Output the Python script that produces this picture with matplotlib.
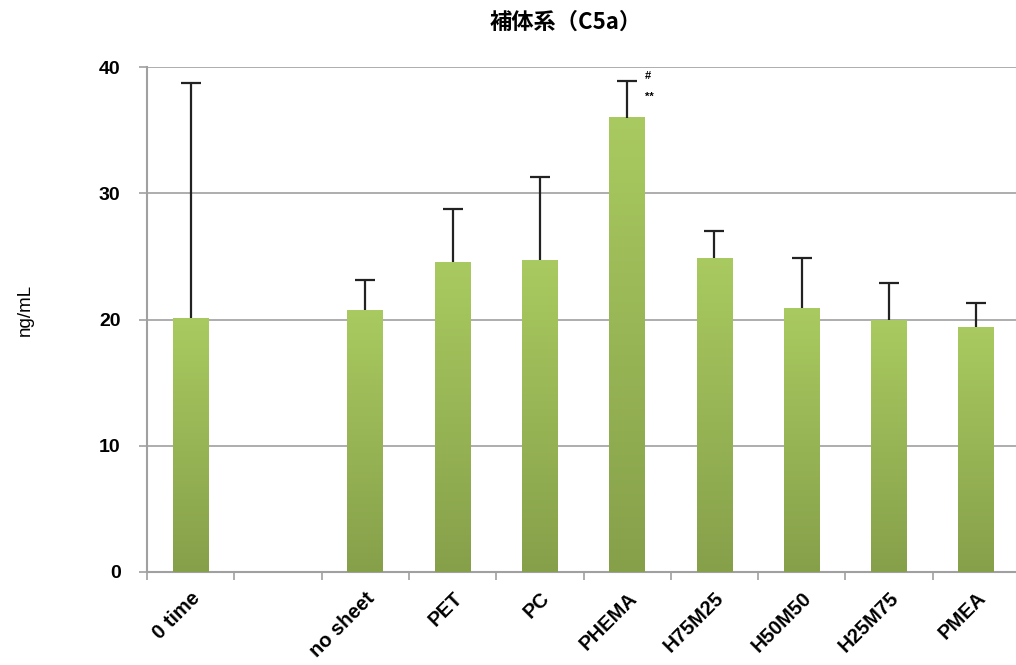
import numpy as np
import matplotlib
matplotlib.use('Agg')
import matplotlib.pyplot as plt
from matplotlib.colors import LinearSegmentedColormap

# Data
categories = ['0 time', '', 'no sheet', 'PET', 'PC', 'PHEMA',
              'H75M25', 'H50M50', 'H25M75', 'PMEA']
means = [20.1, None, 20.75, 24.55, 24.7, 36.0, 24.87, 20.9, 19.96, 19.4]
err_top = [38.7, None, 23.1, 28.75, 31.3, 38.9, 27.0, 24.87, 22.9, 21.3]
title = '補体系（C5a）'
ylabel = 'ng/mL'
yticks = [0, 10, 20, 30, 40]

plt.rcParams['font.family'] = ['Liberation Sans', 'DejaVu Sans']

fig = plt.figure(figsize=(10.16, 6.65), dpi=100)
ax = fig.add_axes([147 / 1016, 93 / 665, 873 / 1016, 505 / 665])

x = np.arange(len(categories))
idx = [i for i, m in enumerate(means) if m is not None]
vals = np.array([means[i] for i in idx])
tops = np.array([err_top[i] for i in idx])
width = 0.41

# gradient bars: light green at top, darker at bottom
cmap = LinearSegmentedColormap.from_list('g', ['#86a04a', '#a9ca60'])
grad = np.linspace(0, 1, 256).reshape(-1, 1)
bars = ax.bar(x[idx], vals, width, color='none', edgecolor='none', zorder=3)
for b in bars:
    x0, y0 = b.get_x(), b.get_y()
    ax.imshow(grad, cmap=cmap, origin='lower', aspect='auto',
              extent=[x0, x0 + b.get_width(), y0, y0 + b.get_height()],
              zorder=3)

# upper error bars only (stem + top cap)
cap = 0.115
ax.vlines(x[idx], vals, tops, color='#222222', linewidth=1.6, zorder=4)
ax.hlines(tops, x[idx] - cap, x[idx] + cap, color='#222222', linewidth=1.6, zorder=4)

# significance marks above PHEMA
ax.text(5 + 0.2, 39.3, '#', fontsize=8, fontweight='bold', ha='left', va='center')
ax.text(5 + 0.2, 37.6, '**', fontsize=8, fontweight='bold', ha='left', va='center')

ax.set_xlim(-0.5, len(categories) - 0.5)
ax.set_ylim(0, 40)
ax.set_yticks(yticks)
ax.set_yticklabels([str(t) for t in yticks], fontsize=14, fontweight='bold')
ax.yaxis.grid(True, color='#a0a0a0', linewidth=1.2, zorder=0)
ax.set_axisbelow(True)

ax.set_xticks(x)
ax.set_xticklabels(categories, rotation=45, ha='right', rotation_mode='anchor',
                   fontsize=14.5, fontweight='bold')
ax.tick_params(axis='x', which='major', length=0, pad=12)
ax.set_xticks(np.arange(-0.5, len(categories), 1.0), minor=True)
ax.tick_params(axis='x', which='minor', length=6, color='#a0a0a0', width=1.2)
ax.tick_params(axis='y', length=6, color='#a0a0a0', width=1.2, pad=13)

for s in ['top', 'right']:
    ax.spines[s].set_visible(False)
for s in ['left', 'bottom']:
    ax.spines[s].set_color('#a0a0a0')
    ax.spines[s].set_linewidth(1.5)

fig.text(25 / 1016, 1 - 310 / 665, ylabel, rotation=90, fontsize=13.5,
         ha='center', va='center')
fig.text(566 / 1016, 1 - 22 / 665, title, fontsize=16, fontweight='bold',
         ha='center', va='center', family=['Noto Sans CJK JP', 'DejaVu Sans'])

fig.savefig('out.png', dpi=100)
